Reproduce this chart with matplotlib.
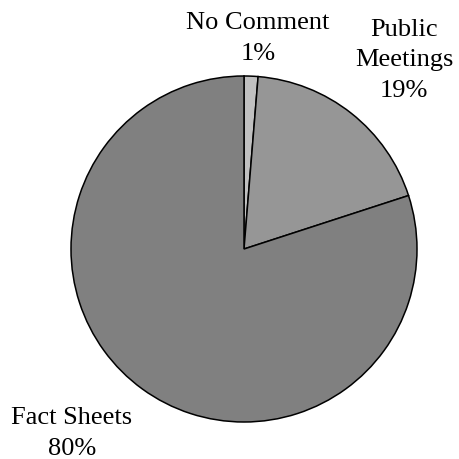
import numpy as np
import matplotlib
matplotlib.use("Agg")
import matplotlib.pyplot as plt

categories = ["No Comment", "Public Meetings", "Fact Sheets"]
label_text = ["No Comment", "Public\nMeetings", "Fact Sheets"]
shares = [1.3, 18.7, 80.0]
pct_labels = ["1%", "19%", "80%"]
colors = ["#c0c0c0", "#969696", "#808080"]

# radial distance and angle nudge (degrees) for each label
label_dist = [1.22, 1.43, 1.46]
label_nudge = [-1.5, -2.0, -7.0]

plt.rcParams["font.family"] = ["Liberation Serif", "DejaVu Serif"]

fig = plt.figure(figsize=(4.59, 4.59), dpi=100)
ax = fig.add_axes([0, 0, 1, 1])

wedges, _ = ax.pie(shares, colors=colors, startangle=90, counterclock=False,
                   wedgeprops=dict(edgecolor="black", linewidth=1.1))

for w, name, pct, d, nudge in zip(wedges, label_text, pct_labels, label_dist, label_nudge):
    mid = np.deg2rad((w.theta1 + w.theta2) / 2.0 + nudge)
    x = d * np.cos(mid)
    y = d * np.sin(mid)
    ax.text(x, y, "{}\n{}".format(name, pct), ha="center", va="center",
            fontsize=19, linespacing=1.5)

r_px = 173.0
cx, cy = 244.0, 459.0 - 249.0
ax.set_xlim(-cx / r_px, (459.0 - cx) / r_px)
ax.set_ylim(-cy / r_px, (459.0 - cy) / r_px)
ax.set_aspect("equal")
ax.axis("off")

plt.savefig("out.png", dpi=100)
plt.close()
